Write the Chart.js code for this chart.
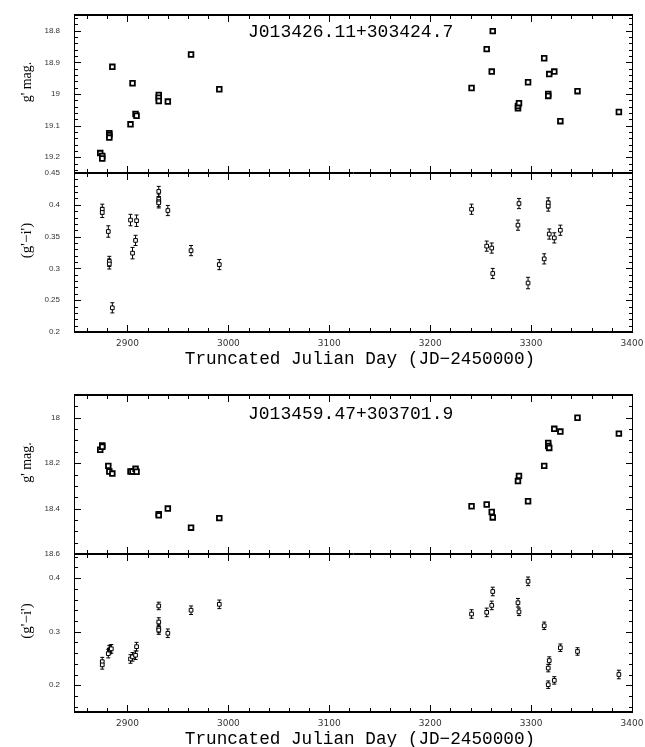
<!DOCTYPE html>
<html>
<head>
<meta charset="utf-8">
<script src="https://cdn.jsdelivr.net/npm/chart.js@4.4.1/dist/chart.umd.min.js"></script>
<style>
  body { margin: 0; background: #fff; width: 645px; height: 747px; overflow: hidden; position: relative; }
  canvas { position: absolute; left: 0; }
</style>
</head>
<body>
<canvas id="gA" width="665" height="208" style="top:-10px"></canvas>
<canvas id="cA" width="665" height="225" style="top:148px"></canvas>
<canvas id="gB" width="665" height="209" style="top:370px"></canvas>
<canvas id="cB" width="665" height="224" style="top:529px"></canvas>
<script>
// eje de tiempo compartido
const X_MIN = 2847;
const X_MAX = 3401;
const X_TICKS = [2900, 3000, 3100, 3200, 3300, 3400];
const X_TITLE = "Truncated Julian Day (JD\u22122450000)";

// J013426.11+303424.7
const NAME_A = "J013426.11+303424.7";
const diasGA = [2873, 2875, 2875, 2882, 2882, 2882, 2885, 2903, 2905, 2908, 2909, 2931, 2931, 2931, 2940, 2963, 2991,
                3241, 3256, 3261, 3262, 3287, 3287, 3288, 3297, 3313, 3317, 3317, 3318, 3323, 3329, 3346, 3387];
const magGA = [19.187, 19.196, 19.204, 19.124, 19.130, 19.138, 18.914, 19.096, 18.966, 19.063, 19.069, 19.003, 19.012, 19.022, 19.024, 18.875, 18.985,
               18.981, 18.858, 18.929, 18.801, 19.045, 19.038, 19.029, 18.963, 18.887, 19.000, 19.006, 18.937, 18.929, 19.086, 18.991, 19.057];
const diasCA = [2875, 2875, 2881, 2882, 2882, 2885, 2903, 2905, 2908, 2909, 2931, 2931, 2931, 2931, 2940, 2963, 2991,
                3241, 3256, 3261, 3262, 3287, 3288, 3297, 3313, 3317, 3317, 3318, 3323, 3329];
const colCA = [0.393, 0.388, 0.358, 0.311, 0.307, 0.238, 0.376, 0.324, 0.344, 0.375, 0.421, 0.409, 0.405, 0.403, 0.391, 0.328, 0.306,
               0.393, 0.335, 0.332, 0.292, 0.368, 0.402, 0.277, 0.315, 0.403, 0.398, 0.354, 0.348, 0.360];
const errCA = [0.008, 0.008, 0.009, 0.008, 0.008, 0.008, 0.009, 0.009, 0.008, 0.009, 0.008, 0.008, 0.008, 0.008, 0.008, 0.008, 0.008,
               0.008, 0.008, 0.008, 0.008, 0.008, 0.008, 0.009, 0.008, 0.008, 0.008, 0.008, 0.008, 0.008];
const ticksGA = [18.8, 18.9, 19, 19.1, 19.2];
const ticksCA = [0.2, 0.25, 0.3, 0.35, 0.4, 0.45];

// J013459.47+303701.9
const NAME_B = "J013459.47+303701.9";
const diasGB = [2873, 2875, 2875, 2881, 2882, 2885, 2903, 2905, 2908, 2909, 2931, 2931, 2940, 2963, 2991,
                3241, 3256, 3261, 3262, 3287, 3288, 3297, 3313, 3317, 3317, 3318, 3323, 3329, 3346, 3387];
const magGB = [18.141, 18.122, 18.128, 18.212, 18.237, 18.246, 18.237, 18.237, 18.225, 18.238, 18.425, 18.430, 18.400, 18.484, 18.442,
               18.390, 18.382, 18.415, 18.439, 18.279, 18.256, 18.368, 18.212, 18.111, 18.125, 18.133, 18.049, 18.061, 18.000, 18.070];
const diasCB = [2875, 2875, 2881, 2882, 2883, 2884, 2903, 2905, 2908, 2909, 2931, 2931, 2931, 2931, 2940, 2963, 2991,
                3241, 3256, 3261, 3262, 3287, 3288, 3297, 3313, 3317, 3317, 3318, 3323, 3329, 3346, 3387];
const colCB = [0.244, 0.238, 0.259, 0.266, 0.267, 0.268, 0.249, 0.253, 0.256, 0.272, 0.348, 0.318, 0.306, 0.303, 0.297, 0.340, 0.351,
               0.333, 0.336, 0.349, 0.375, 0.354, 0.337, 0.394, 0.311, 0.232, 0.201, 0.246, 0.209, 0.270, 0.263, 0.220];
const errCB = [0.008, 0.008, 0.008, 0.008, 0.008, 0.008, 0.008, 0.008, 0.008, 0.008, 0.007, 0.008, 0.008, 0.008, 0.008, 0.008, 0.008,
               0.008, 0.008, 0.008, 0.008, 0.008, 0.007, 0.008, 0.007, 0.007, 0.007, 0.007, 0.007, 0.007, 0.007, 0.008];
const ticksGB = [18, 18.2, 18.4, 18.6];
const ticksCB = [0.2, 0.3, 0.4];

Chart.defaults.color = "#333";

// marco con marcas hacia dentro, barras de error, nombre y titulos
function marco(o) {
    return {
        id: "marco",
        beforeDatasetsDraw(chart) {
            if (!o.errs) return;
            const { ctx, scales: { x, y } } = chart;
            ctx.save();
            ctx.strokeStyle = "#000";
            ctx.lineWidth = 1;
            o.dias.forEach((d, i) => {
                const px = x.getPixelForValue(d);
                const lo = y.getPixelForValue(o.vals[i] - o.errs[i]);
                const hi = y.getPixelForValue(o.vals[i] + o.errs[i]);
                ctx.beginPath();
                ctx.moveTo(px, lo); ctx.lineTo(px, hi);
                ctx.moveTo(px - 2, lo); ctx.lineTo(px + 2, lo);
                ctx.moveTo(px - 2, hi); ctx.lineTo(px + 2, hi);
                ctx.stroke();
            });
            ctx.restore();
        },
        afterDraw(chart) {
            const { ctx, chartArea: a, scales: { x, y } } = chart;
            ctx.save();
            ctx.strokeStyle = "#000";
            ctx.fillStyle = "#000";

            const linea = (x1, y1, x2, y2, w) => {
                ctx.lineWidth = w;
                ctx.beginPath();
                ctx.moveTo(x1, y1);
                ctx.lineTo(x2, y2);
                ctx.stroke();
            };
            linea(a.left + 0.5, a.top, a.left + 0.5, a.bottom, 1);
            linea(a.right - 0.5, a.top, a.right - 0.5, a.bottom, 1);
            if (o.gruesoArriba) linea(a.left, a.top, a.right, a.top, 2);
            else linea(a.left, a.top + 0.5, a.right, a.top + 0.5, 1);
            if (o.gruesoAbajo) linea(a.left, a.bottom, a.right, a.bottom, 2);
            else linea(a.left, a.bottom - 0.5, a.right, a.bottom - 0.5, 1);

            // marcas del eje x (cada 20 dias, mayores cada 100)
            for (let d = Math.ceil(x.min / 20) * 20; d <= x.max; d += 20) {
                const px = Math.round(x.getPixelForValue(d)) + 0.5;
                const l = d % 100 === 0 ? 7 : 4;
                linea(px, a.top, px, a.top + l, 1);
                linea(px, a.bottom, px, a.bottom - l, 1);
            }

            // marcas del eje y
            const k0 = Math.ceil(y.min / o.menor - 1e-6);
            const k1 = Math.floor(y.max / o.menor + 1e-6);
            for (let k = k0; k <= k1; k++) {
                const v = k * o.menor;
                const mayor = o.ticks.some(t => Math.abs(t - v) < o.menor / 10);
                const py = Math.round(y.getPixelForValue(v)) + 0.5;
                const l = mayor ? 7 : 4;
                linea(a.left, py, a.left + l, py, 1);
                linea(a.right, py, a.right - l, py, 1);
            }

            if (o.nombre) {
                ctx.font = '18px "Liberation Mono"';
                ctx.textAlign = "left";
                ctx.textBaseline = "alphabetic";
                ctx.fillText(o.nombre, a.left + 174, a.top + o.nombreY);
            }

            if (o.conEjeX) {
                ctx.font = '17.7px "Liberation Mono"';
                ctx.textAlign = "center";
                ctx.textBaseline = "middle";
                ctx.fillText(X_TITLE, 360, a.bottom + 27);
            }

            ctx.translate(27, (a.top + a.bottom) / 2 - 12);
            ctx.rotate(-Math.PI / 2);
            ctx.font = o.tituloFuente;
            ctx.textAlign = "center";
            ctx.textBaseline = "middle";
            ctx.fillText(o.titulo, 0, 0);
            ctx.restore();
        }
    };
}

function panel(id, o) {
    const puntos = o.dias.map((d, i) => ({ x: d, y: o.vals[i] }));
    return new Chart(document.getElementById(id), {
        type: "scatter",
        data: {
            datasets: [{
                data: puntos,
                pointStyle: "rect",
                pointRadius: o.radio,
                pointBorderWidth: o.borde,
                borderColor: "#000",
                backgroundColor: "#fff"
            }]
        },
        options: {
            responsive: false,
            animation: false,
            devicePixelRatio: 1,
            layout: { padding: { top: 25, bottom: o.conEjeX ? 0 : 25, left: 0, right: 32 } },
            plugins: { legend: { display: false }, tooltip: { enabled: false } },
            scales: {
                x: {
                    type: "linear",
                    min: X_MIN,
                    max: X_MAX,
                    display: o.conEjeX,
                    grid: { display: false, drawTicks: false },
                    border: { display: false },
                    afterBuildTicks: s => { s.ticks = X_TICKS.map(v => ({ value: v })); },
                    afterFit: s => { if (o.conEjeX) s.height = 41; },
                    ticks: {
                        padding: 6,
                        autoSkip: false,
                        maxRotation: 0,
                        font: { family: "DejaVu Sans", size: 9 },
                        callback: v => String(v)
                    }
                },
                y: {
                    type: "linear",
                    min: o.min,
                    max: o.max,
                    reverse: o.invertido,
                    grid: { display: false, drawTicks: false },
                    border: { display: false },
                    afterBuildTicks: s => { s.ticks = o.ticks.map(v => ({ value: v })); },
                    afterFit: s => { s.width = 74; },
                    ticks: {
                        padding: 14,
                        autoSkip: false,
                        font: { family: "Liberation Sans", size: 8 },
                        callback: v => String(v)
                    }
                }
            }
        },
        plugins: [marco(o)]
    });
}

const fuenteMag = '14px "Liberation Serif"';
const fuenteColor = '15px "Liberation Serif"';

panel("gA", {
    dias: diasGA, vals: magGA, ticks: ticksGA, min: 18.75, max: 19.25, invertido: true, menor: 0.02,
    radio: 3.3, borde: 1.8, conEjeX: false,
    gruesoArriba: true, nombre: NAME_A, nombreY: 22, titulo: "g' mag.", tituloFuente: fuenteMag
});
panel("cA", {
    dias: diasCA, vals: colCA, errs: errCA, ticks: ticksCA, min: 0.2, max: 0.45, invertido: false, menor: 0.01,
    radio: 2.6, borde: 1, conEjeX: true,
    gruesoAbajo: true, titulo: "(g'\u2212i')", tituloFuente: fuenteColor
});
panel("gB", {
    dias: diasGB, vals: magGB, ticks: ticksGB, min: 17.9, max: 18.6, invertido: true, menor: 0.05,
    radio: 3.3, borde: 1.8, conEjeX: false,
    gruesoArriba: true, nombre: NAME_B, nombreY: 24, titulo: "g' mag.", tituloFuente: fuenteMag
});
panel("cB", {
    dias: diasCB, vals: colCB, errs: errCB, ticks: ticksCB, min: 0.15, max: 0.445, invertido: false, menor: 0.02,
    radio: 2.6, borde: 1, conEjeX: true,
    gruesoAbajo: true, titulo: "(g'\u2212i')", tituloFuente: fuenteColor
});
</script>
</body>
</html>
